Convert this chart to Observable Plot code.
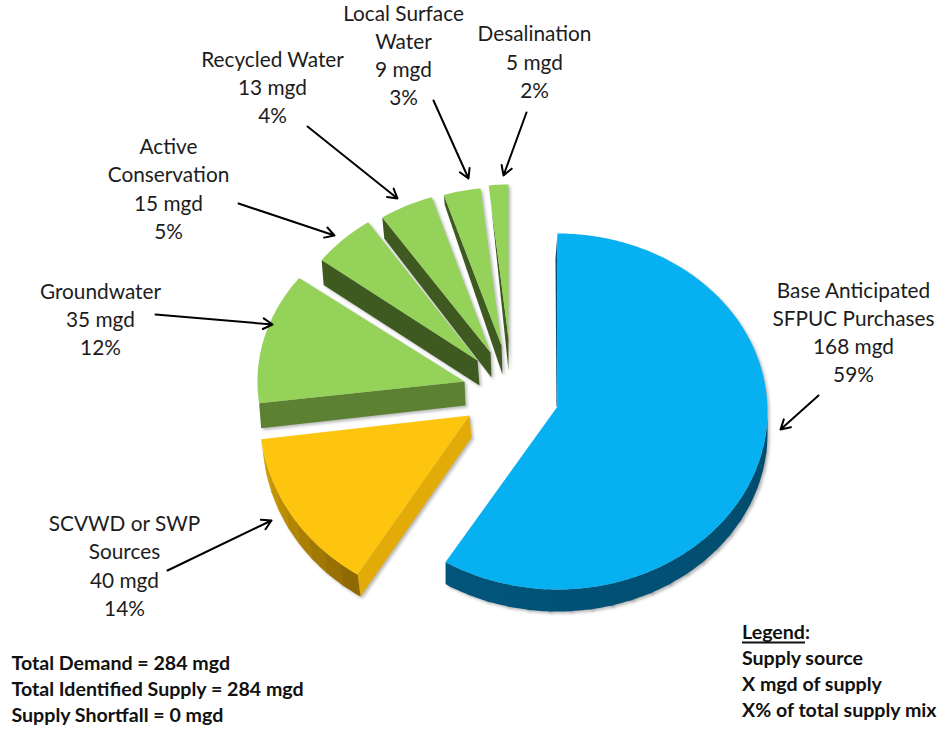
<!DOCTYPE html>
<html><head><meta charset="utf-8">
<script src="https://cdn.jsdelivr.net/npm/d3@7"></script>
<script src="https://cdn.jsdelivr.net/npm/@observablehq/plot@0.6"></script>
<style>html,body{margin:0;padding:0;background:#fff}svg{display:block}</style>
</head><body><div id="chart"></div>
<script>
// ---- values
const sources = ["Base Anticipated\nSFPUC Purchases","SCVWD or SWP\nSources","Groundwater","Active\nConservation","Recycled Water","Local Surface\nWater","Desalination"];
const mgd = [168,40,35,15,13,9,5];
const percent = [59,14,12,5,4,3,2];
const totals = ["Total Demand = 284 mgd","Total Identified Supply = 284 mgd","Supply Shortfall = 0 mgd"];
const legendLines = ["Legend:","Supply source","X mgd of supply","X% of total supply mix"];

// ---- layout of the exploded 3-D pie, in the plot's coordinate space
const apexX = [557,469,464,477,490,501,508];
const apexY = [406,415,381,360,352,345,338];
const arcCy = [411,415,381,360,352,345,338];
const radX  = [210,210,207,195,193,190,180];
const radY  = [178,188,172,167,163,158,154];
const outerDepth = [[-2,25],[3,22],[2,25],[2,25],[2,21],[1,10],[2,15]];
const apexDepth  = [[-1,0],[2,22],[1,24],[2,25],[1,25],[1,29],[0,32]];
const rimDepth   = [[0,22],[3,22],null,null,null,null,null];
const topColor   = ["#07b0f1","#fec50f","#94d259","#94d259","#94d259","#94d259","#94d259"];
const wallColor  = ["#02507a","#e2ab08","#5c8133","#3f5a20","#3f5a20","#3f5a20","#3f5a20"];
const rimStart   = ["#02557c","#dfa802"];
const rimEnd     = ["#024c6c","#8f6a02"];
const drawOrder  = [6,5,4,3,2,1,0];

const labelX = [853,124,100,168,272,403,534];
const labelY = [330.5,564,317.5,187,85.5,53.5,60];
const arrowFrom = [[818,395],[167,570],[155,314],[238,203],[307,126],[433,100],[526,112]];
const arrowTo   = [[780,429],[271,520],[272,324],[334,235],[397,198],[468,178],[503,175]];

// ---- geometry from the values
const arcs = d3.pie().sort(null).startAngle(0).endAngle(2*Math.PI)(mgd);
const rimPoint = (i,a) => [apexX[i]+radX[i]*Math.sin(a), arcCy[i]-radY[i]*Math.cos(a)];
const polys = [];
const add = (id,pts,fill) => pts.forEach(p => polys.push({id,x:p[0],y:p[1],fill}));
drawOrder.forEach(i => {
  const {startAngle:a0,endAngle:a1} = arcs[i];
  const n = Math.max(4,Math.ceil((a1-a0)*60));
  const steps = d3.range(n+1).map(k => a0+(a1-a0)*k/n);
  const o = rimPoint(i,a0), ax=apexX[i], ay=apexY[i];
  const od=outerDepth[i], ad=apexDepth[i];
  add(`w${i}`,[o,[ax,ay],[ax+ad[0],ay+ad[1]],[o[0]+od[0],o[1]+od[1]]],wallColor[i]);
  if (rimDepth[i]) {
    // rim bands overlap the next one so that no seams appear
    const rs = steps.filter(a => a >= Math.PI/2);
    const col = d3.interpolateRgb(rimEnd[i],rimStart[i]);
    const d = rimDepth[i], band = 6;
    for (let k=0; k<rs.length-1; k+=band) {
      const part = rs.slice(k, Math.min(k+band+2, rs.length)).map(a=>rimPoint(i,a));
      const t = k/(rs.length-1);
      add(`r${i}-${k}`,[...part,...part.slice().reverse().map(p=>[p[0]+d[0],p[1]+d[1]])],col(t));
    }
  }
  add(`t${i}`,[[ax,ay],...steps.map(a=>rimPoint(i,a))],topColor[i]);
});

const labels = sources.map((s,i)=>({x:labelX[i],y:labelY[i],text:`${s}\n${mgd[i]} mgd\n${percent[i]}%`}));
const arrows = arrowFrom.map((f,i)=>({x1:f[0],y1:f[1],x2:arrowTo[i][0],y2:arrowTo[i][1]}));
const totalRows = totals.map((t,i)=>({x:11,y:663+26*i,text:t}));
const legendRows = legendLines.map((t,i)=>({x:741.5,y:632+26*i,text:t}));

const font = "Lato, 'Open Sans', sans-serif";
const chart = Plot.plot({
  width:942,height:729,margin:0,
  x:{domain:[0,942],range:[0,942],axis:null},
  y:{domain:[0,729],range:[0,729],axis:null},
  color:{type:"identity"},
  marks:[
    Plot.line(polys,{x:"x",y:"y",z:"id",fill:"#777",stroke:"none",curve:"linear-closed",dx:2,dy:2,fillOpacity:.5,imageFilter:"blur(1.5px)"}),
    Plot.line(polys,{x:"x",y:"y",z:"id",fill:"fill",stroke:"none",curve:"linear-closed"}),
    Plot.arrow(arrows,{x1:"x1",y1:"y1",x2:"x2",y2:"y2",stroke:"#000",strokeWidth:2,headLength:8,headAngle:60,bend:0,insetEnd:0}),
    Plot.text(labels,{x:"x",y:"y",text:"text",textAnchor:"middle",lineAnchor:"middle",lineHeight:1.35,fontSize:20.8,fontFamily:font,fill:"#1c1c1c"}),
    Plot.text(totalRows,{x:"x",y:"y",text:"text",textAnchor:"start",fontSize:19.6,fontWeight:700,fontFamily:font,fill:"#111"}),
    Plot.text(legendRows,{x:"x",y:"y",text:"text",textAnchor:"start",fontSize:19.6,fontWeight:700,fontFamily:font,fill:"#111"}),
    Plot.ruleY([642],{x1:742,x2:805,stroke:"#111",strokeWidth:2})
  ]
});
document.getElementById("chart").append(chart);
</script></body></html>
